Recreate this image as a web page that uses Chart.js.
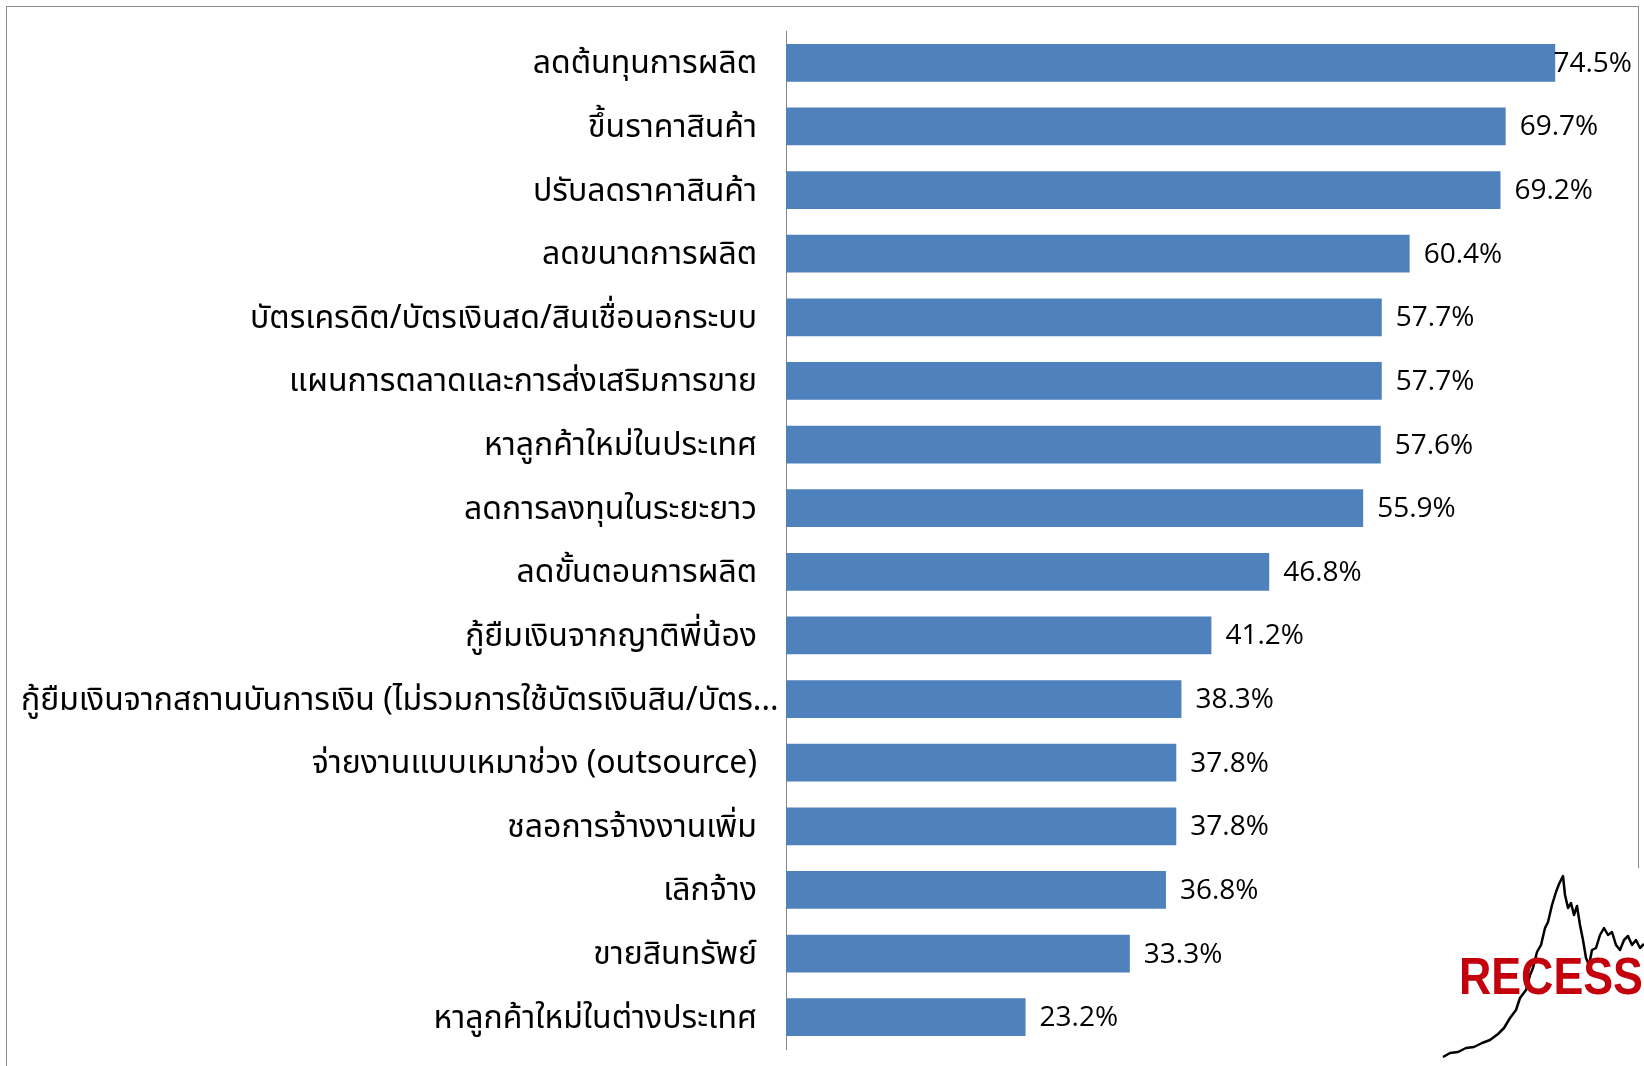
<!DOCTYPE html>
<html>
<head>
<meta charset="utf-8">
<script src="https://cdn.jsdelivr.net/npm/chart.js@4/dist/chart.umd.min.js"></script>
<style>
    html, body { margin: 0; padding: 0; background: #ffffff; }
    #wrap { width: 1644px; height: 1066px; position: relative; }
</style>
</head>
<body>
<div id="wrap"><canvas id="chart" width="1644" height="1066"></canvas></div>
<script>
const categories = [
    'ลดต้นทุนการผลิต',
    'ขึ้นราคาสินค้า',
    'ปรับลดราคาสินค้า',
    'ลดขนาดการผลิต',
    'บัตรเครดิต/บัตรเงินสด/สินเชื่อนอกระบบ',
    'แผนการตลาดและการส่งเสริมการขาย',
    'หาลูกค้าใหม่ในประเทศ',
    'ลดการลงทุนในระยะยาว',
    'ลดขั้นตอนการผลิต',
    'กู้ยืมเงินจากญาติพี่น้อง',
    'กู้ยืมเงินจากสถานบันการเงิน (ไม่รวมการใช้บัตรเงินสิน/บัตร...',
    'จ่ายงานแบบเหมาช่วง (outsource)',
    'ชลอการจ้างงานเพิ่ม',
    'เลิกจ้าง',
    'ขายสินทรัพย์',
    'หาลูกค้าใหม่ในต่างประเทศ',
];
const shares = [74.5, 69.7, 69.2, 60.4, 57.7, 57.7, 57.6, 55.9, 46.8, 41.2, 38.3, 37.8, 37.8, 36.8, 33.3, 23.2];

const colors = {
    bar: '#4f81bd',
    axis: '#868686',
    frame: '#8c8c8c',
    text: '#000000',
    logoRed: '#c3000b',
};
const labelFont = '"Noto Sans Thai", "Leelawadee UI", "Open Sans", sans-serif';
const valueFont = '"Open Sans", sans-serif';

// outer frame, category + value labels, recession logo
const decorations = {
    id: 'decorations',
    beforeDraw(chart) {
        const { ctx } = chart;
        ctx.save();
        ctx.strokeStyle = colors.frame;
        ctx.lineWidth = 1;
        ctx.strokeRect(6.5, 6.5, 1632, 1080);
        ctx.restore();
    },
    afterDatasetsDraw(chart) {
        const { ctx } = chart;
        const yScale = chart.scales.y;
        const meta = chart.getDatasetMeta(0);
        ctx.save();
        ctx.fillStyle = colors.text;
        ctx.textBaseline = 'middle';

        // category labels, right aligned next to the axis; a too-long one is pushed right like Excel does
        ctx.font = `32px ${labelFont}`;
        ctx.textAlign = 'right';
        categories.forEach((label, i) => {
            const w = ctx.measureText(label).width;
            const right = Math.max(yScale.right - 29, 21 + w);
            ctx.fillText(label, right, yScale.getPixelForValue(i) + 4);
        });

        ctx.font = `28px ${valueFont}`;
        ctx.textAlign = 'left';
        meta.data.forEach((bar, i) => {
            const text = `${shares[i].toFixed(1)}%`;
            const w = ctx.measureText(text).width;
            let x = bar.x + 14;
            if (x + w > 1632) x = 1632 - w;
            ctx.fillText(text, x, bar.y + 1);
        });
        ctx.restore();
    },
    afterDraw(chart) {
        const { ctx } = chart;
        ctx.save();
        ctx.fillStyle = '#ffffff';
        ctx.fillRect(1390, 868, 254, 198);
        // stock-line sketch of the logo
        const pts = [[1443, 1057], [1450, 1053], [1458, 1052], [1466, 1048], [1474, 1047], [1482, 1043],
            [1490, 1040], [1498, 1034], [1504, 1028], [1510, 1018], [1516, 1010], [1520, 998], [1526, 990],
            [1530, 975], [1533, 968], [1537, 952], [1541, 945], [1545, 928], [1548, 922], [1552, 905],
            [1556, 892], [1559, 884], [1563, 876], [1565, 895], [1568, 908], [1571, 903], [1574, 915],
            [1577, 906], [1580, 925], [1583, 940], [1586, 958], [1589, 965], [1592, 950], [1596, 948],
            [1600, 935], [1604, 928], [1608, 935], [1612, 932], [1616, 945], [1620, 950], [1624, 940],
            [1628, 936], [1632, 945], [1636, 940], [1640, 948], [1644, 944]];
        ctx.strokeStyle = '#000000';
        ctx.lineWidth = 2.5;
        ctx.lineJoin = 'round';
        ctx.beginPath();
        pts.forEach(([x, y], i) => (i ? ctx.lineTo(x, y) : ctx.moveTo(x, y)));
        ctx.stroke();
        ctx.font = 'bold 52px "Liberation Sans", sans-serif';
        ctx.fillStyle = colors.logoRed;
        ctx.textBaseline = 'alphabetic';
        ctx.translate(1459, 994);
        ctx.scale(0.86, 1);
        ctx.fillText('RECESS', 0, 0);
        ctx.restore();
    },
};

new Chart(document.getElementById('chart'), {
    type: 'bar',
    data: {
        labels: categories,
        datasets: [{
            data: shares,
            backgroundColor: colors.bar,
            borderWidth: 0,
            categoryPercentage: 1,
            barPercentage: 0.595,
        }],
    },
    options: {
        indexAxis: 'y',
        responsive: false,
        animation: false,
        layout: { padding: { top: 31, bottom: 17, right: 32, left: 0 } },
        plugins: {
            legend: { display: false },
            tooltip: { enabled: false },
        },
        scales: {
            x: { display: false, min: 0, max: 80 },
            y: {
                grid: { display: false },
                border: { display: true, color: colors.axis, width: 1 },
                ticks: { display: false },
                afterFit(scale) {
                    scale.width = 786;
                    scale.paddingTop = 0;
                    scale.paddingBottom = 0;
                },
            },
        },
    },
    plugins: [decorations],
});
</script>
</body>
</html>
